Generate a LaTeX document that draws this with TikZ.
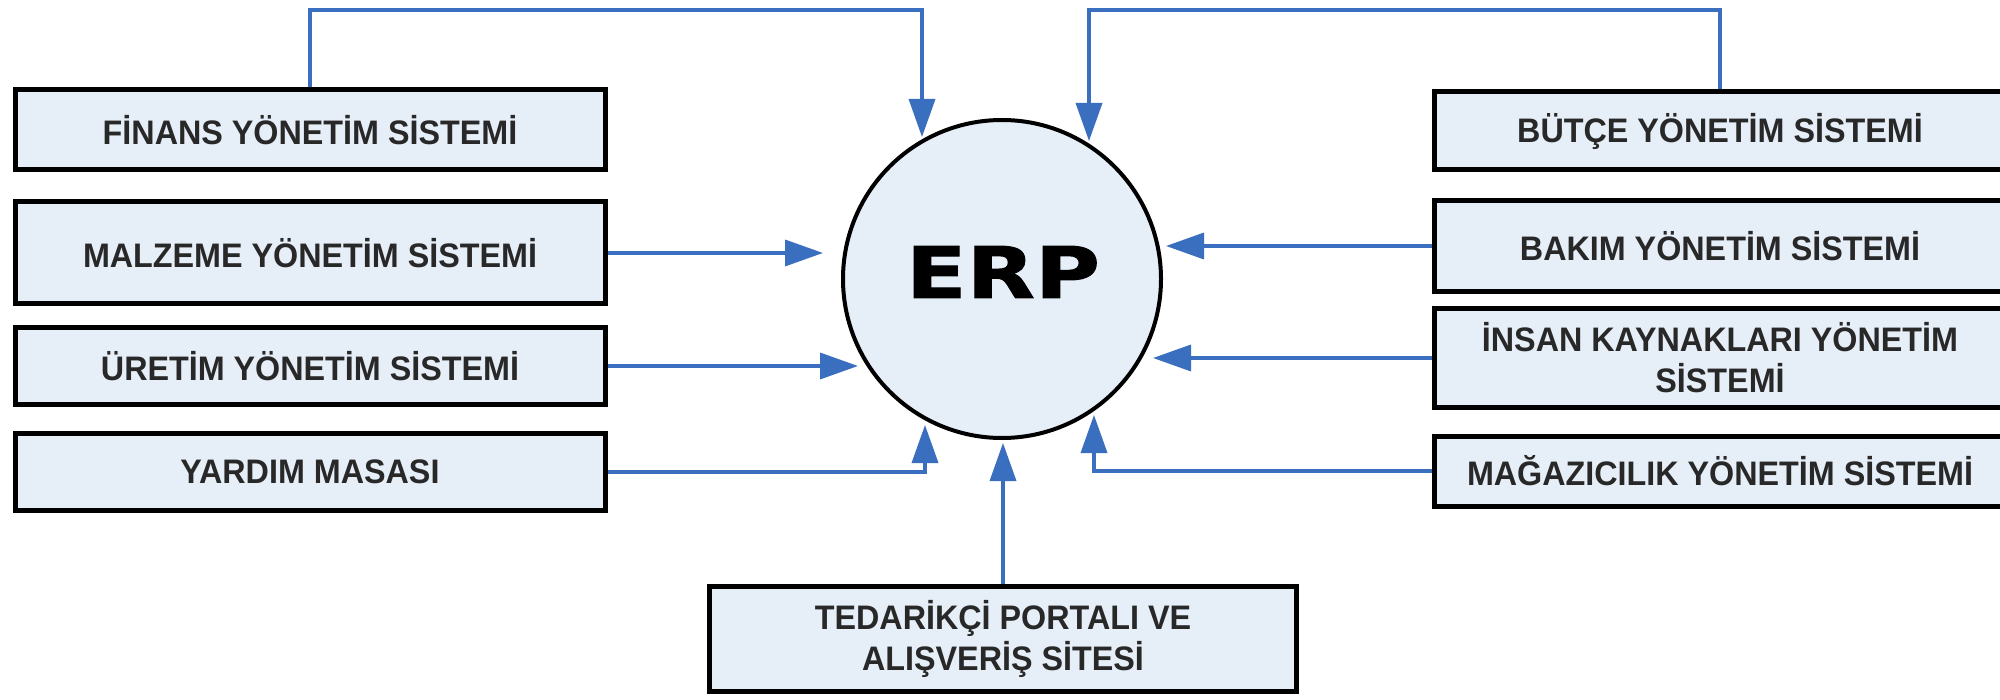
\documentclass[tikz,border=0pt]{standalone}
\usepackage{fontspec}
\setmainfont{Liberation Sans}
\newfontfamily\boxfont[FakeStretch=0.95]{Liberation Sans}
\newfontfamily\erpfont[FakeStretch=1.25,FakeBold=1.4]{DejaVu Sans}
\usetikzlibrary{arrows.meta}
\definecolor{boxfill}{RGB}{230,238,248}
\definecolor{arrowblue}{RGB}{58,110,190}
\definecolor{txtgray}{RGB}{40,40,40}
\tikzset{
  sysbox/.style={draw=black, line width=5pt, fill=boxfill, text=txtgray,
    font=\boxfont\fontsize{34}{41}\selectfont\bfseries, align=center, inner sep=0pt},
  flow/.style={draw=arrowblue, line width=3.5pt, -{Triangle[length=38pt,width=26pt]}},
}
\begin{document}
\begin{tikzpicture}[x=1pt,y=-1pt]
\fill[white] (0,0) rectangle (2000,700);
\useasboundingbox (0,0) rectangle (2000,700);
\clip (0,0) rectangle (2000,700);

% centre
\node[circle, draw=black, line width=4pt, fill=boxfill, minimum size=318pt, inner sep=0pt] (erp) at (1002,279) {};
\node[inner sep=0pt] (erplabel) at (1003,272) {\erpfont\bfseries\fontsize{71}{71}\selectfont ERP};

% left boxes
\node[sysbox, minimum width=590pt, minimum height=80pt] (fin) at (310,130) {FİNANS YÖNETİM SİSTEMİ};
\node[sysbox, minimum width=590pt, minimum height=102pt] (mal) at (310,253) {MALZEME YÖNETİM SİSTEMİ};
\node[sysbox, minimum width=590pt, minimum height=77pt] (ure) at (310,366) {ÜRETİM YÖNETİM SİSTEMİ};
\node[sysbox, minimum width=590pt, minimum height=77pt] (yar) at (310,472) {YARDIM MASASI};

% bottom box
\node[sysbox, minimum width=587pt, minimum height=105pt] (ted) at (1003,639) {TEDARİKÇİ PORTALI VE\\ALIŞVERİŞ SİTESİ};

% right boxes
\node[sysbox, minimum width=572pt, minimum height=78pt] (but) at (1720,131) {BÜTÇE YÖNETİM SİSTEMİ};
\node[sysbox, minimum width=572pt, minimum height=91pt] (bak) at (1720,246) {BAKIM YÖNETİM SİSTEMİ};
\node[sysbox, minimum width=572pt, minimum height=99pt] (ins) at (1720,358) {İNSAN KAYNAKLARI YÖNETİM\\SİSTEMİ};
\node[sysbox, minimum width=572pt, minimum height=70pt] (mag) at (1720,471) {MAĞAZICILIK YÖNETİM SİSTEMİ};

% connector end points
\coordinate (top) at (0,10);
\coordinate (tfin) at (922,137);
\coordinate (tbut) at (1089,141);
\coordinate (tmal) at (823,0);
\coordinate (ture) at (858,0);
\coordinate (tyar) at (925,425);
\coordinate (tted) at (0,443);
\coordinate (tbak) at (1166,0);
\coordinate (tins) at (1153,0);
\coordinate (tmag) at (1094,415);

% connectors
\draw[flow] (fin.north) -- (fin.north |- top) -| (tfin);
\draw[flow] (but.north) -- (but.north |- top) -| (tbut);
\draw[flow] (mal.east) -- (mal.east -| tmal);
\draw[flow] (ure.east) -- (ure.east -| ture);
\draw[flow] (yar.east) -| (tyar);
\draw[flow] (ted.north) -- (ted.north |- tted);
\draw[flow] (bak.west) -- (bak.west -| tbak);
\draw[flow] (ins.west) -- (ins.west -| tins);
\draw[flow] (mag.west) -| (tmag);
\end{tikzpicture}
\end{document}
